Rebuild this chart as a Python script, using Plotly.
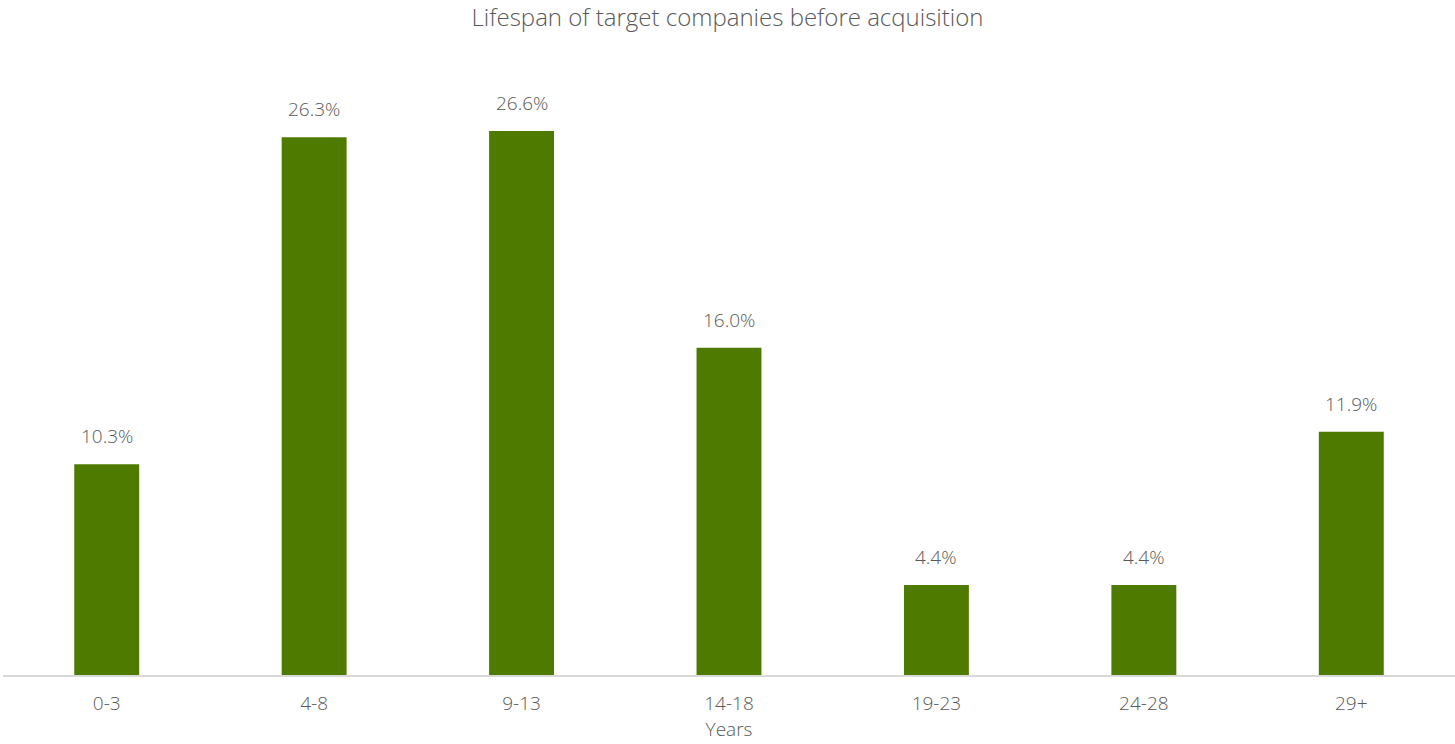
import plotly.graph_objects as go

categories = ["0-3", "4-8", "9-13", "14-18", "19-23", "24-28", "29+"]
shares = [10.3, 26.3, 26.6, 16.0, 4.4, 4.4, 11.9]
labels = [f"{v:.1f}%" for v in shares]

FONT = "Open Sans"
GREY = "#595959"

fig = go.Figure(
    go.Bar(
        x=categories,
        y=shares,
        marker=dict(color="#4F7A00", line=dict(width=0)),
        width=0.313,
        hoverinfo="x+y",
    )
)

# value labels sitting a little above each bar
for cat, val, lab in zip(categories, shares, labels):
    fig.add_annotation(
        x=cat,
        y=val,
        text=lab,
        showarrow=False,
        yanchor="bottom",
        yshift=13,
        font=dict(family=FONT, size=19, color=GREY, weight=300),
    )

fig.update_layout(
    width=1455,
    height=744,
    margin=dict(l=3, r=0, t=40, b=69),
    paper_bgcolor="white",
    plot_bgcolor="white",
    showlegend=False,
    title=dict(
        text="Lifespan of target companies before acquisition",
        x=0.5,
        xanchor="center",
        y=0.976,
        yanchor="middle",
        font=dict(family=FONT, size=24, color=GREY, weight=300),
    ),
    xaxis=dict(
        showline=True,
        linecolor="#D9D9D9",
        linewidth=2,
        showgrid=False,
        ticks="",
        ticklabelstandoff=10,
        tickfont=dict(family=FONT, size=19, color=GREY, weight=300),
        title=dict(text="Years", standoff=6,
                   font=dict(family=FONT, size=19, color=GREY, weight=300)),
    ),
    yaxis=dict(
        visible=False,
        range=[0, 31.05],
    ),
)

fig.write_html("out.html")
